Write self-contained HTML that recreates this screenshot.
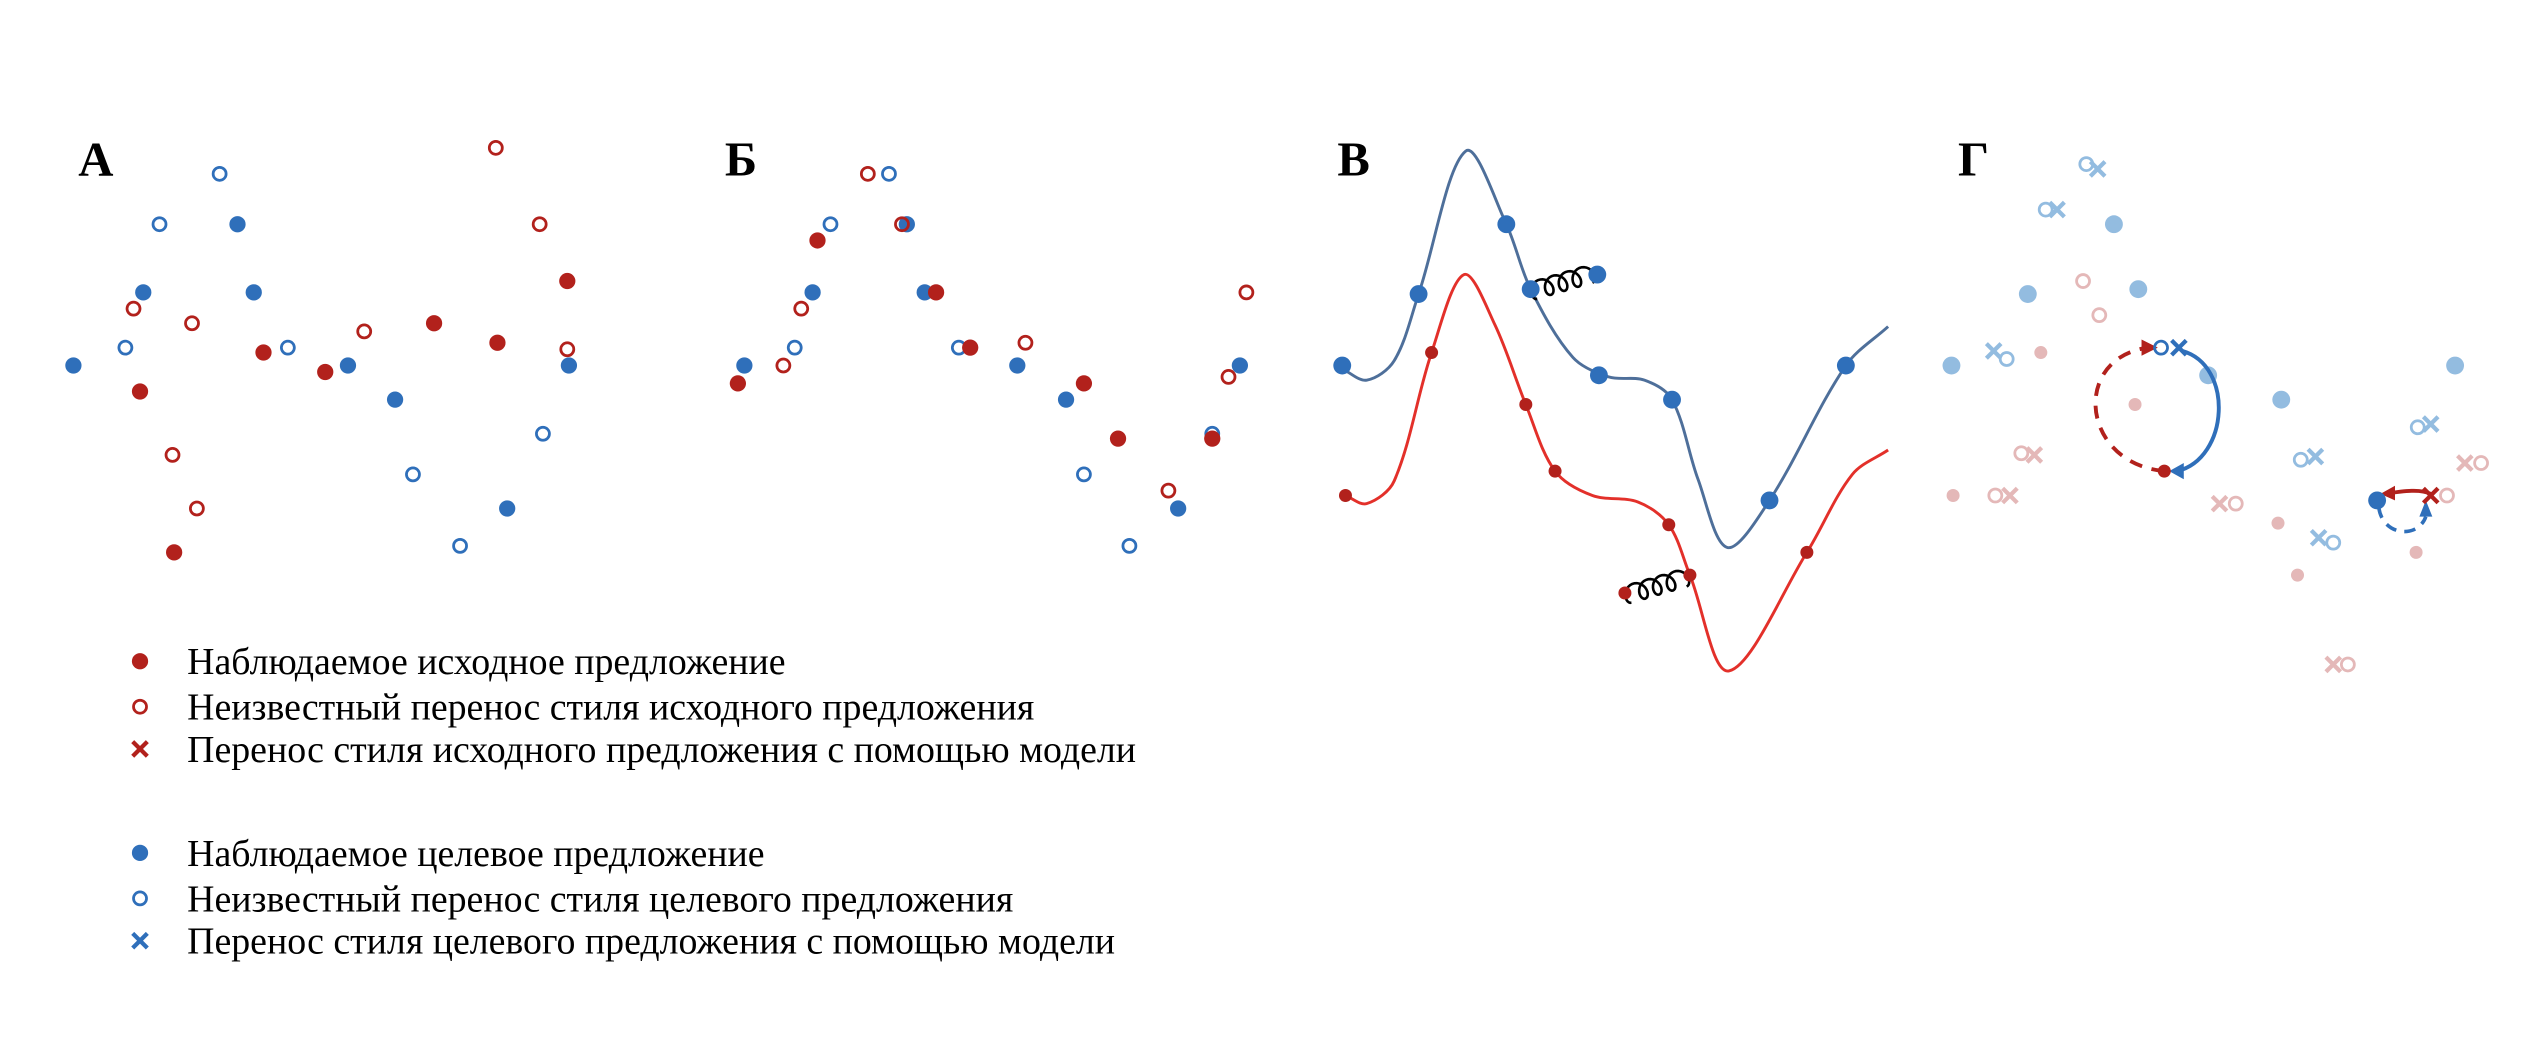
<!DOCTYPE html>
<html><head><meta charset="utf-8"><style>
html,body{margin:0;padding:0;background:#fff;}
svg{display:block;}
text{font-family:"Liberation Serif",serif;}
</style></head><body>
<svg id="chart" width="2548" height="1056" viewBox="0 0 1568 650" xmlns="http://www.w3.org/2000/svg">
<g id="labels">
<text x="48" y="108" font-size="30" font-weight="bold">А</text>
<text x="446" y="108" font-size="30" font-weight="bold">Б</text>
<text x="823" y="108" font-size="30" font-weight="bold">В</text>
<text x="1205" y="108" font-size="30" font-weight="bold">Г</text>
</g>
<g id="marks"></g>
<g id="legend"></g>
</svg>
<script>
const RED="#b2211c", BLUE="#2f6fba", LRED="#e4b8b8", LBLUE="#93bce0";
// Panel A
const aBlueObs=[[45,225],[88,180],[146,138],[156,180],[214,225],[243,246],[312,313],[350,225]];
const aBlueUnk=[[135,107],[98,138],[77,214],[177,214],[254,292],[334,267],[283,336]];
const aRedObs=[[86,241],[107,340],[162,217],[200,229],[267,199],[306,211],[349,173]];
const aRedUnk=[[82,190],[118,199],[106,280],[121,313],[224,204],[305,91],[332,138],[349,215]];
// Panel B
const bBlueObs=[[458,225],[500,180],[558,138],[569,180],[626,225],[656,246],[725,313],[763,225]];
const bBlueUnk=[[547,107],[511,138],[489,214],[590,214],[667,292],[746,267],[695,336]];
const bRedObs=[[454,236],[503,148],[576,180],[597,214],[667,236],[688,270],[746,270]];
const bRedUnk=[[493,190],[482,225],[534,107],[555,138],[631,211],[719,302],[756,232],[767,180]];
// Panel V curves
const vBlueCurve=[[826,227],[841,234],[858,222],[873,181],[902,93],[927,138],[942,178],[968,220],[990,232],[1012,234],[1029,246],[1045,295],[1063,337],[1089,308],[1136,225],[1162,201]];
const vRedCurve=[[828,305],[841,310],[858,296],[881,217],[901,169],[920,200],[939,249],[957,290],[980,305],[1008,309],[1027,323],[1040,354],[1064,413],[1112,340],[1140,292],[1162,277]];
const vBlueObs=[[826,225],[873,181],[927,138],[942,178],[983,169],[984,231],[1029,246],[1089,308],[1136,225]];
const vRedObs=[[828,305],[881,217],[939,249],[957,290],[1027,323],[1040,354],[1000,365],[1112,340]];
// Panel G
const gBlueObsFaint=[[1201,225],[1248,181],[1301,138],[1316,178],[1359,231],[1404,246],[1511,225]];
const gBlueUnkFaint=[[1284,101],[1259,129],[1235,221],[1416,283],[1488,263],[1436,334]];
const gBlueXFaint=[[1291,104],[1266,129],[1227,216],[1425,281],[1496,261],[1427,331]];
const gRedObsFaint=[[1256,217],[1314,249],[1202,305],[1402,322],[1414,354],[1487,340]];
const gRedUnkFaint=[[1282,173],[1292,194],[1244,279],[1228,305],[1376,310],[1527,285],[1506,305],[1445,409]];
const gRedXFaint=[[1252,280],[1237,305],[1366,310],[1517,285],[1436,409]];

const NS="http://www.w3.org/2000/svg";
const marks=document.getElementById('marks');
function mk(tag,attrs,parent){const e=document.createElementNS(NS,tag);for(const k in attrs)e.setAttribute(k,attrs[k]);(parent||marks).appendChild(e);return e;}
function dot(p,c,r,name){const e=mk('circle',{cx:p[0],cy:p[1],r:r,fill:c});

return e;}
function ring(p,c,name){const e=mk('circle',{cx:p[0],cy:p[1],r:4,fill:'none',stroke:c,'stroke-width':1.7});

return e;}
function cross(p,c,name){const s=4.5;const e=mk('path',{d:`M${p[0]-s},${p[1]-s}L${p[0]+s},${p[1]+s}M${p[0]+s},${p[1]-s}L${p[0]-s},${p[1]+s}`,stroke:c,'stroke-width':2.6,fill:'none'});

return e;}
function smooth(pts){
  const n=pts.length,t=[0];
  for(let i=1;i<n;i++)t.push(t[i-1]+Math.hypot(pts[i][0]-pts[i-1][0],pts[i][1]-pts[i-1][1]));
  const m=pts.map((p,i)=>{const a=pts[Math.max(0,i-1)],b=pts[Math.min(n-1,i+1)];const dt=t[Math.min(n-1,i+1)]-t[Math.max(0,i-1)];return[(b[0]-a[0])/dt,(b[1]-a[1])/dt];});
  let d=`M${pts[0][0]},${pts[0][1]}`;
  for(let i=0;i<n-1;i++){const h=(t[i+1]-t[i])/3;const p1=pts[i],p2=pts[i+1];
    d+=`C${(p1[0]+m[i][0]*h).toFixed(2)},${(p1[1]+m[i][1]*h).toFixed(2)} ${(p2[0]-m[i+1][0]*h).toFixed(2)},${(p2[1]-m[i+1][1]*h).toFixed(2)} ${p2[0]},${p2[1]}`;}
  return d;}

aBlueObs.forEach(p=>dot(p,BLUE,5,'a-target-observed'));
aBlueUnk.forEach(p=>ring(p,BLUE,'a-target-unknown'));
aRedObs.forEach(p=>dot(p,RED,5,'a-source-observed'));
aRedUnk.forEach(p=>ring(p,RED,'a-source-unknown'));
bBlueObs.forEach(p=>dot(p,BLUE,5,'b-target-observed'));
bBlueUnk.forEach(p=>ring(p,BLUE,'b-target-unknown'));
bRedObs.forEach(p=>dot(p,RED,5,'b-source-observed'));
bRedUnk.forEach(p=>ring(p,RED,'b-source-unknown'));

let bc=mk('path',{d:smooth(vBlueCurve),stroke:'#4e6f9a','stroke-width':1.8,fill:'none'});


let rc=mk('path',{d:smooth(vRedCurve),stroke:'#e3302a','stroke-width':1.8,fill:'none'});


function spring(a,b,name){let d='';const n=100,loops=4,r=5;const dx=b[0]-a[0],dy=b[1]-a[1];const L=Math.hypot(dx,dy),ux=dx/L,uy=dy/L,nx=uy,ny=-ux;
for(let i=0;i<=n;i++){const tt=i/n;const ang=tt*loops*2*Math.PI;const along=tt*L - r*0.9*Math.sin(ang);const perp=r*(1-Math.cos(ang))*1.1;
const x=a[0]+ux*along+nx*perp,y=a[1]+uy*along+ny*perp;d+=(i?'L':'M')+x.toFixed(2)+','+y.toFixed(2);}
const e=mk('path',{d:d,stroke:'#000','stroke-width':1.6,fill:'none'});

}
spring([946,184],[980,174],'spring-top');
spring([1004,371],[1038,361],'spring-bottom');
vBlueObs.forEach(p=>dot(p,BLUE,5.5,'v-target-observed'));
vRedObs.forEach(p=>dot(p,RED,4,'v-source-observed'));

gBlueObsFaint.forEach(p=>dot(p,LBLUE,5.5,'g-target-observed'));
gBlueUnkFaint.forEach(p=>ring(p,LBLUE,'g-target-unknown'));
gBlueXFaint.forEach(p=>cross(p,LBLUE,'g-target-transfer'));
gRedObsFaint.forEach(p=>dot(p,LRED,4,'g-source-observed'));
gRedUnkFaint.forEach(p=>ring(p,LRED,'g-source-unknown'));
gRedXFaint.forEach(p=>cross(p,LRED,'g-source-transfer'));
let e;
e=mk('path',{d:'M1332,290 C1280,285 1275,220 1322,214',stroke:RED,'stroke-width':2.4,fill:'none','stroke-dasharray':'8,6'});


e=mk('path',{d:'M1318,209 L1328,214 L1318,219Z',fill:RED});


e=mk('path',{d:'M1343,216 C1375,225 1372,282 1340,290',stroke:BLUE,'stroke-width':2.4,fill:'none'});


e=mk('path',{d:'M1344,285 L1335,290 L1344,295Z',fill:BLUE});


e=mk('path',{d:'M1496,304 C1490,301 1480,302 1468,304',stroke:RED,'stroke-width':2.4,fill:'none'});


e=mk('path',{d:'M1474,299 L1465,304 L1474,308Z',fill:RED});


e=mk('path',{d:'M1464,312 C1466,330 1488,332 1493,318',stroke:BLUE,'stroke-width':2.2,fill:'none','stroke-dasharray':'7,5'});


e=mk('path',{d:'M1489,318 L1493,308 L1497,318Z',fill:BLUE});


dot([1332,290],RED,4,'g-source-observed-strong');
ring([1330,214],BLUE,'g-target-unknown-strong');
cross([1341,214],BLUE,'g-target-transfer-strong');
dot([1463,308],BLUE,5.5,'g-target-observed-strong');
cross([1496,305],RED,'g-source-transfer-strong');

// legend
const legendLabels=["Наблюдаемое исходное предложение","Неизвестный перенос стиля исходного предложения","Перенос стиля исходного предложения с помощью модели","Наблюдаемое целевое предложение","Неизвестный перенос стиля целевого предложения","Перенос стиля целевого предложения с помощью модели"];
const legendY=[407,435,461,525,553,579];
const lg=document.getElementById('legend');
legendLabels.forEach((t,i)=>{const c=i<3?RED:BLUE,k=i%3,p=[86,legendY[i]];
const m=k==0?dot(p,c,5,'legend-marker'):k==1?ring(p,c,'legend-marker'):cross(p,c,'legend-marker');
lg.appendChild(m);
const tx=mk('text',{x:115,y:legendY[i]+8,'font-size':23.3,fill:'#000'},lg);tx.textContent=t;

});
</script>
</body></html>
